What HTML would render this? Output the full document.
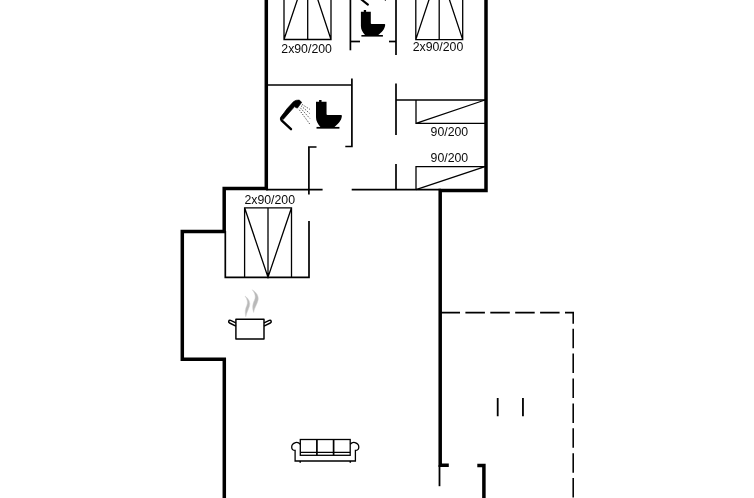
<!DOCTYPE html>
<html><head><meta charset="utf-8"><title>Floor plan</title>
<style>
html,body{margin:0;padding:0;background:#fff;overflow:hidden;}
svg{display:block;will-change:transform;}
text{font-family:"Liberation Sans",Arial,sans-serif;font-size:12.3px;fill:#0a0a0a;}
</style></head><body>
<svg width="754" height="498" viewBox="0 0 754 498">
<rect width="754" height="498" fill="#fff"/>
<!-- thick outer walls -->
<g fill="none" stroke="#000" stroke-width="3.5" stroke-linejoin="miter" stroke-linecap="butt">
<path d="M266.3,-2 V188.6 H224.2 V231.5 H182.3 V359.3 H224.3 V500"/>
<path d="M486,-2 V190.5 H440.2 V465.2 H448.8"/>
<path d="M477.3,465.5 H483.9 V500"/>
</g>
<!-- thin walls -->
<g fill="none" stroke="#000" stroke-width="1.7" stroke-linecap="butt">
<path d="M439.5,465 V486.2" stroke-width="1.8"/>
<path d="M266,85 H351.7"/>
<path d="M351.9,78.4 V146.5 H345.3"/>
<path d="M350.4,-2 V50.3"/>
<path d="M396,-2 V55"/>
<path d="M350.4,41.5 H360"/>
<path d="M389,41.5 H396"/>
<path d="M396,83.5 V135"/>
<path d="M396,164 V190"/>
<path d="M396,100 H485"/>
<path d="M266,189.6 H322.6"/>
<path d="M351.7,189.6 H441"/>
<path d="M316.5,147 H308.9 V194.5"/>
<path d="M309,221 V277.3 H225.3 V231"/>
</g>
<!-- beds -->
<g fill="none" stroke="#000" stroke-width="1.3">
<path d="M284,-2 V39.5 H331 V-2 M307.7,-2 V39.5 M284,39.5 L307.7,-31 M331,39.5 L307.7,-31"/>
<path d="M415.8,-2 V39.6 H462.7 V-2 M439.2,-2 V39.6 M415.8,39.6 L439.2,-31 M462.7,39.6 L439.2,-31"/>
<path d="M416,100 V123.3 H485 M416,123.3 L485,100"/>
<path d="M485,166.7 H416 V189.6 M416,189.6 L485,166.7"/>
<path d="M244.6,277.3 V207.8 H291.5 V277.3 M268,207.8 V277.3 M244.6,207.8 L268,277.3 L291.5,207.8"/>
</g>
<!-- labels -->
<text x="281.3" y="53">2x90/200</text>
<text x="412.7" y="50.6">2x90/200</text>
<text x="430.6" y="136">90/200</text>
<text x="430.6" y="162.2">90/200</text>
<text x="244.4" y="204.1">2x90/200</text>
<!-- dashed terrace -->
<g fill="none" stroke="#000" stroke-width="1.55">
<path d="M440.5,312.6 H574" stroke-dasharray="19.5 5.4"/>
<path d="M573.2,312 V323.8"/>
<path d="M573.2,328.7 V500" stroke-dasharray="19.5 5.4"/>
<path d="M497.7,398 V416.3 M522.95,398 V416.3" stroke-width="1.8"/>
</g>
<!-- toilet 1 -->
<g id="t1" fill="#000" stroke="none">
<path d="M360.9,11.8 H363.8 V10.1 H366.1 V11.8 H370.8 V23.2 Q370.8,24 371.6,24 H384.4 Q385.3,24 385.2,25 C384.8,29.5 381.5,32.5 378,35.2 H365.2 C362.5,32 360.9,29.5 360.9,26 Z"/>
<rect x="361.4" y="35" width="21.5" height="1.6"/>
</g>
<!-- toilet 2 -->
<g fill="#000" stroke="none" transform="translate(316,99.9) scale(1.065,1.085) translate(-360.9,-10.1)">
<path d="M360.9,11.8 H363.8 V10.1 H366.1 V11.8 H370.8 V23.2 Q370.8,24 371.6,24 H384.4 Q385.3,24 385.2,25 C384.8,29.5 381.5,32.5 378,35.2 H365.2 C362.5,32 360.9,29.5 360.9,26 Z"/>
<rect x="361.4" y="35" width="21.5" height="1.6"/>
</g>
<!-- shower top fragment -->
<path d="M359.5,-2 L367.9,4.6" stroke="#000" stroke-width="2.1" stroke-linecap="round" fill="none"/>
<rect x="384.8" y="0" width="1.2" height="0.8" fill="#333"/>
<!-- shower -->
<g fill="none" stroke="#000" stroke-linecap="round" stroke-linejoin="round">
<path d="M291,129.2 L281.6,120.4 Q280.5,119.2 281.5,117.8 L284,114.8" stroke-width="2.4"/>
<path d="M280.9,117.2 Q286.5,108.5 293.6,101.6 Q295.8,99.8 299.2,100.1 L301.7,102.3 L297.4,108.1 Q295.6,107.6 294.6,106.6 L283.2,119.4 Z" fill="#000" stroke-width="0.7"/>
<g stroke-width="0.9" stroke-dasharray="1.2 1.5" stroke="#222" stroke-linecap="butt">
<path d="M302.2,104.5 L309.8,109.3"/>
<path d="M301.2,105.9 L309.8,113.6"/>
<path d="M300.3,107.8 L309.8,118.4"/>
<path d="M299.3,109.8 L309.8,124.1"/>
</g>
</g>
<!-- pot -->
<g fill="none" stroke="#000" stroke-width="1.45" stroke-linejoin="round">
<rect x="235.9" y="319.3" width="28.1" height="19.6"/>
<path d="M235.9,322.9 L230.6,320.4 C228.6,319.8 227.9,322.2 229.6,323 L235.9,326.1"/>
<path d="M264,322.9 L269.3,320.4 C271.3,319.8 272,322.2 270.3,323 L264,326.1"/>
</g>
<g fill="#b9b9b9" stroke="#d0d0d0" stroke-width="0.5">
<path d="M245.8,316.8 C244.8,312 245.2,309 246.8,305.5 C248,302.5 247.5,299.5 245,296 C249,299 250.5,302.5 249.5,306 C248.5,309.5 246.8,312 245.8,316.8 Z"/>
<path d="M253.6,312.5 C252,308 252.5,304 254.5,300 C256,296.5 255,293 252.2,289.8 C257,292.5 259,296.5 258,300.5 C257,304.5 254.5,307.5 253.6,312.5 Z"/>
</g>
<!-- sofa -->
<g fill="none" stroke="#000" stroke-width="1.3">
<rect x="300.3" y="439.5" width="49.9" height="15.8"/>
<path d="M300.3,452.4 H350.2"/>
<path d="M316.9,439.5 V455.3 M333.6,439.5 V455.3" stroke-width="1.7"/>
<path d="M300.3,444.2 C299,442.7 297,442.2 295.5,442.6 C293.2,443.3 291.6,445.2 291.7,447.2 C291.8,449.2 293.2,450.4 295.1,450.4 V461 H355.4 V450.4 C357.3,450.4 358.7,449.2 358.8,447.2 C358.9,445.2 357.3,443.3 355,442.6 C353.5,442.2 351.5,442.7 350.2,444.2"/>
<path d="M300.2,461 V462.8 M350.3,461 V462.8" stroke-width="1.5"/>
</g>
</svg>
</body></html>
